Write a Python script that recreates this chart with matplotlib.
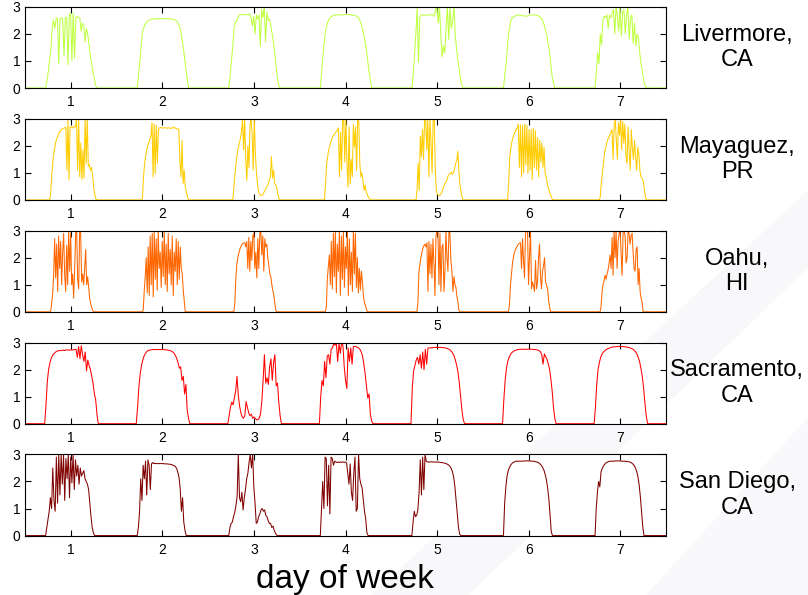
import matplotlib.pyplot as plt
import numpy as np
from matplotlib.patches import Polygon

plt.rcParams['font.family'] = ['Liberation Sans', 'DejaVu Sans']

days = [1, 2, 3, 4, 5, 6, 7]
cities = ['Livermore,\nCA', 'Mayaguez,\nPR', 'Oahu,\nHI', 'Sacramento,\nCA', 'San Diego,\nCA']
colors = ['#bfff40', '#ffcc00', '#ff6600', '#ff0000', '#800000']

# sunrise / sunset as offset from noon (fraction of a day)
sun_rise = [-0.275, -0.23, -0.22, -0.285, -0.275]
sun_set = [0.285, 0.285, 0.25, 0.30, 0.26]

# power samples between sunrise and sunset, one list per day
livermore = [
    [0, 0.25, 0.6, 1.0, 1.4, 2.2, 2.5, 2.2, 2.55, 2.6, 0.9, 2.55, 2.6, 2.55, 1.2, 2.6, 2.6, 0.85, 2.7, 2.75,
     1.0, 2.78, 1.1, 2.6, 2.65, 2.6, 2.6, 2.1, 2.4, 2.3, 1.7, 2.2, 2.0, 1.6, 1.2, 0.9, 0.6, 0.35, 0.1, 0],
    [0, 0.95, 2.05, 2.34, 2.47, 2.52, 2.55, 2.55, 2.56, 2.56, 2.56, 2.56, 2.56, 2.55, 2.54, 2.5, 2.4, 2.1,
     1.5, 0.7, 0],
    [0, 0.4, 1.0, 1.5, 2.2, 2.45, 2.45, 2.6, 2.7, 2.72, 2.72, 2.7, 2.72, 2.7, 2.72, 2.7, 2.75, 2.6, 2.3, 2.65,
     2.0, 2.7, 2.55, 2.7, 1.55, 2.9, 2.6, 3.0, 1.7, 2.8, 2.5, 2.55, 2.3, 2.0, 1.7, 1.3, 0.8, 0.4, 0.1, 0],
    [0, 1.15, 2.1, 2.47, 2.62, 2.68, 2.7, 2.7, 2.7, 2.71, 2.72, 2.72, 2.7, 2.68, 2.66, 2.6, 2.35, 1.95,
     1.4, 0.6, 0],
    [0, 0.5, 1.2, 2.0, 2.96, 0.95, 2.6, 2.7, 2.7, 2.68, 2.7, 2.7, 2.68, 2.7, 2.72, 2.7, 2.7, 2.65, 2.9, 3.0,
     2.4, 3.0, 2.0, 1.15, 1.55, 1.3, 2.2, 3.0, 1.8, 2.96, 2.2, 2.5, 3.0, 1.9, 1.45, 1.0, 0.7, 0.35, 0.1, 0],
    [0, 0.9, 2.0, 2.55, 2.63, 2.68, 2.7, 2.68, 2.66, 2.65, 2.68, 2.7, 2.71, 2.68, 2.65, 2.55, 2.3, 1.9,
     1.3, 0.4, 0],
    [0, 0.6, 1.3, 0.9, 2.0, 1.6, 2.5, 2.65, 2.6, 2.7, 2.2, 2.7, 2.6, 2.75, 2.9, 2.0, 3.0, 2.6, 2.1, 3.0,
     1.9, 2.8, 2.9, 2.0, 2.7, 3.0, 1.8, 2.6, 2.7, 1.65, 2.4, 1.55, 2.0, 1.85, 1.3, 0.9, 0.6, 0.3, 0.1, 0],
]

mayaguez = [
    [0, 0.3, 1.0, 1.45, 1.75, 2.0, 2.2, 2.3, 2.4, 2.5, 2.55, 2.6, 2.62, 2.65, 2.66, 2.68, 1.1, 2.95, 0.75,
     2.7, 2.68, 2.7, 2.65, 2.72, 2.7, 3.0, 1.1, 3.0, 0.85, 2.1, 0.75, 1.85, 0.8, 3.0, 1.35, 3.0, 1.25, 1.3,
     1.1, 1.2, 0.9, 0.45, 0.2, 0.05, 0],
    [0, 0.05, 0.8, 1.3, 1.6, 1.85, 2.0, 2.1, 2.25, 2.35, 2.85, 0.85, 2.8, 0.97, 2.75, 1.35, 2.6, 2.66, 2.68,
     2.66, 2.65, 2.66, 2.67, 2.66, 2.65, 2.66, 2.66, 2.65, 2.64, 2.66, 2.7, 2.66, 2.65, 2.64, 2.62, 2.6,
     1.5, 0.85, 2.2, 0.6, 1.1, 0.5, 0.3, 0.15, 0],
    [0, 0.5, 0.97, 1.35, 1.7, 1.9, 2.1, 2.25, 2.5, 2.97, 1.85, 3.0, 1.5, 0.72, 2.0, 1.2, 2.8, 3.0, 2.4, 1.1,
     3.0, 1.7, 1.0, 0.6, 0.3, 0.2, 0.17, 0.16, 0.2, 0.28, 0.35, 0.45, 0.5, 0.6, 0.75, 0.85, 1.6, 0.8, 1.1,
     0.6, 0.55, 0.45, 0.2, 0.05, 0],
    [0, 0.6, 1.3, 1.6, 1.85, 2.0, 2.15, 2.25, 2.35, 2.42, 2.47, 2.52, 2.58, 2.66, 0.85, 2.5, 1.1, 2.97, 3.0,
     1.4, 3.0, 1.4, 0.47, 2.7, 0.6, 1.5, 0.85, 2.8, 1.95, 2.7, 1.1, 3.0, 2.9, 1.35, 0.85, 1.0, 0.7, 0.35,
     0.55, 0.3, 0.2, 0.1, 0.05, 0, 0],
    [0, 0.4, 1.35, 0.35, 2.35, 1.6, 2.6, 1.5, 3.0, 2.97, 1.85, 3.0, 0.85, 3.0, 2.1, 1.0, 3.0, 3.0, 1.1,
     0.35, 0.2, 0.18, 0.16, 0.2, 0.28, 0.4, 0.5, 0.6, 0.66, 0.75, 0.9, 0.95, 0.97, 1.02, 0.95, 1.0, 1.15,
     1.35, 1.45, 1.8, 1.1, 0.55, 0.3, 0.1, 0],
    [0, 0.6, 1.6, 1.9, 2.15, 2.3, 2.42, 2.5, 2.6, 2.65, 2.8, 1.2, 2.78, 0.85, 2.75, 1.0, 2.8, 1.3, 2.75,
     0.97, 2.6, 1.1, 2.6, 0.75, 2.65, 1.2, 2.55, 1.1, 2.3, 0.85, 2.2, 1.4, 2.1, 1.2, 1.95, 1.0, 0.85, 0.6,
     0.45, 0.3, 0.2, 0.08, 0.02, 0, 0],
    [0, 0.1, 0.6, 1.0, 1.35, 1.7, 1.9, 2.1, 2.22, 2.3, 2.4, 2.5, 2.6, 1.5, 2.75, 3.0, 2.2, 1.5, 2.85, 2.4,
     3.0, 1.85, 2.9, 2.1, 2.8, 1.6, 1.35, 2.7, 1.8, 1.1, 2.6, 1.9, 1.5, 2.2, 1.6, 1.1, 1.95, 1.7, 1.1,
     0.85, 0.8, 0.72, 0.45, 0.15, 0],
]

oahu = [
    [0, 0.3, 0.65, 1.35, 2.7, 1.25, 2.5, 0.75, 2.8, 1.6, 2.6, 1.0, 2.2, 2.9, 1.4, 0.75, 2.45, 1.0, 3.0,
     1.5, 2.9, 1.0, 1.4, 0.5, 1.6, 2.9, 3.0, 1.2, 0.85, 3.0, 2.9, 1.1, 1.4, 1.0, 1.6, 2.3, 1.0, 1.3, 0.9,
     0.5, 0.3, 0.15, 0.05, 0],
    [0, 0.05, 0.75, 1.3, 2.0, 0.7, 2.4, 0.6, 2.8, 1.0, 2.9, 0.55, 3.0, 1.2, 2.7, 0.8, 3.0, 1.6, 2.2, 0.9,
     2.6, 1.3, 3.0, 1.0, 2.5, 0.75, 2.9, 1.4, 2.3, 1.0, 2.8, 0.6, 2.2, 1.5, 2.7, 1.0, 2.6, 1.2, 2.4, 1.6,
     1.4, 0.8, 0.4, 0],
    [0, 0.3, 1.2, 1.75, 2.0, 2.15, 2.3, 2.4, 2.48, 2.52, 2.55, 2.55, 2.4, 2.6, 1.6, 2.75, 1.5, 2.6, 1.9,
     2.8, 2.9, 1.6, 2.2, 1.25, 2.7, 1.6, 2.9, 3.0, 2.1, 2.8, 1.5, 2.7, 2.4, 2.5, 2.0, 1.7, 1.4, 1.3, 1.0,
     0.8, 0.6, 0.3, 0.05, 0],
    [0, 0.2, 1.25, 1.7, 2.1, 1.0, 2.6, 0.85, 2.9, 1.3, 3.0, 0.7, 2.5, 1.5, 2.95, 0.6, 2.8, 1.2, 3.0, 0.9,
     2.4, 1.6, 3.0, 0.6, 2.7, 1.0, 2.2, 0.75, 3.0, 1.4, 2.9, 0.9, 2.0, 0.7, 1.6, 0.8, 1.5, 1.1, 0.6, 0.35,
     0.25, 0.1, 0, 0],
    [0, 0.35, 1.5, 1.75, 2.0, 2.2, 2.35, 2.45, 2.5, 2.4, 2.55, 0.75, 2.6, 1.4, 2.5, 1.25, 2.7, 1.8, 0.6,
     2.8, 3.0, 2.95, 1.0, 2.9, 0.75, 2.4, 2.5, 0.75, 1.5, 3.0, 2.0, 1.5, 3.0, 2.9, 1.85, 1.5, 0.75, 1.3,
     1.0, 0.9, 0.55, 0.35, 0.05, 0],
    [0, 0.3, 1.0, 1.4, 1.8, 2.05, 2.2, 2.3, 2.38, 2.45, 2.5, 2.54, 2.55, 1.6, 2.7, 1.9, 1.25, 2.9, 3.0,
     3.0, 1.0, 2.1, 3.0, 0.85, 1.1, 0.95, 0.75, 1.9, 0.85, 1.1, 2.0, 2.5, 1.3, 0.85, 1.5, 1.7, 2.0, 1.1,
     1.0, 0.85, 0.45, 0.2, 0, 0],
    [0, 0.2, 0.75, 1.0, 1.15, 1.35, 1.2, 1.4, 1.55, 1.8, 2.1, 1.6, 2.75, 1.35, 3.0, 2.0, 3.0, 1.6, 2.6,
     2.9, 3.0, 2.2, 1.35, 2.9, 3.0, 2.8, 1.8, 2.0, 3.0, 2.9, 2.5, 2.8, 2.9, 2.2, 1.6, 1.5, 2.3, 2.4, 1.0,
     1.6, 0.75, 0.5, 0.35, 0],
]

sacramento = [
    [0, 0.7, 1.55, 2.0, 2.25, 2.42, 2.52, 2.58, 2.63, 2.67, 2.69, 2.7, 2.7, 2.71, 2.72, 2.7, 2.72, 2.73,
     2.72, 2.72, 2.73, 2.72, 2.73, 2.74, 2.75, 2.45, 2.85, 2.4, 2.88, 2.55, 2.3, 2.65, 1.95, 2.35, 2.15,
     2.0, 1.75, 1.5, 1.1, 0.9, 0.35, 0],
    [0, 0.6, 1.35, 1.85, 2.15, 2.35, 2.5, 2.6, 2.66, 2.7, 2.72, 2.73, 2.73, 2.74, 2.74, 2.74, 2.74, 2.74,
     2.74, 2.74, 2.74, 2.74, 2.73, 2.73, 2.72, 2.71, 2.7, 2.68, 2.65, 2.6, 2.52, 2.4, 2.25, 2.05, 2.1,
     1.6, 1.75, 1.1, 1.45, 0.5, 0.2, 0],
    [0, 0.3, 0.6, 0.8, 0.7, 0.95, 1.2, 1.75, 1.05, 0.65, 0.4, 0.25, 0.2, 0.3, 0.82, 0.6, 0.4, 0.3, 0.35,
     0.2, 0.25, 0.2, 0.14, 0.15, 0.2, 0.35, 0.8, 1.6, 2.55, 1.5, 1.7, 1.45, 2.1, 2.4, 1.6, 2.25, 2.55,
     1.4, 1.5, 0.8, 0.3, 0],
    [0, 1.0, 1.6, 1.4, 2.3, 1.7, 2.5, 2.55, 2.2, 2.75, 2.8, 2.95, 2.9, 2.95, 2.3, 2.96, 2.6, 3.0, 2.9,
     2.1, 1.6, 1.3, 2.8, 2.3, 2.8, 2.2, 2.85, 2.85, 2.85, 2.82, 2.8, 2.75, 2.65, 2.5, 2.2, 1.85, 1.4,
     0.95, 1.1, 0.35, 0.1, 0],
    [0, 1.3, 1.95, 2.15, 2.35, 2.45, 2.2, 2.55, 2.05, 2.65, 2.0, 2.75, 2.2, 2.8, 2.8, 2.8, 2.81, 2.81,
     2.82, 2.82, 2.82, 2.82, 2.82, 2.82, 2.81, 2.81, 2.8, 2.79, 2.77, 2.75, 2.72, 2.67, 2.6, 2.5, 2.35,
     2.15, 1.9, 1.5, 1.0, 0.5, 0.15, 0],
    [0, 0.9, 1.6, 2.05, 2.3, 2.45, 2.55, 2.62, 2.66, 2.69, 2.71, 2.73, 2.74, 2.75, 2.75, 2.75, 2.75, 2.75,
     2.75, 2.75, 2.76, 2.75, 2.75, 2.75, 2.74, 2.74, 2.73, 2.72, 2.7, 2.66, 2.55, 2.2, 2.58, 2.48, 2.38,
     2.22, 2.0, 1.65, 1.2, 0.6, 0.2, 0],
    [0, 0.6, 1.45, 2.0, 2.25, 2.45, 2.57, 2.64, 2.69, 2.73, 2.76, 2.78, 2.8, 2.82, 2.83, 2.84, 2.84, 2.85,
     2.85, 2.85, 2.85, 2.85, 2.85, 2.84, 2.84, 2.83, 2.82, 2.81, 2.79, 2.77, 2.74, 2.7, 2.64, 2.55, 2.42,
     2.25, 2.0, 1.7, 1.25, 0.7, 0.25, 0],
]

san_diego = [
    [0, 0.3, 0.6, 0.9, 1.4, 1.0, 2.5, 1.3, 0.9, 2.9, 1.2, 3.0, 1.5, 3.0, 1.9, 3.0, 1.3, 2.85, 2.1, 3.0,
     1.4, 2.9, 1.95, 3.0, 1.7, 2.8, 2.2, 2.6, 1.9, 2.5, 2.2, 2.3, 2.4, 2.1, 2.0, 1.9, 1.7, 1.2, 0.7, 0.3,
     0.1, 0],
    [0, 0.3, 0.9, 2.1, 1.3, 2.6, 2.1, 2.75, 1.5, 2.8, 2.6, 1.7, 2.65, 2.7, 2.66, 2.67, 2.66, 2.66, 2.66,
     2.66, 2.66, 2.66, 2.66, 2.65, 2.65, 2.65, 2.64, 2.64, 2.63, 2.62, 2.6, 2.58, 2.55, 2.48, 2.35, 2.15,
     1.75, 0.9, 1.4, 0.5, 0.2, 0],
    [0, 0.3, 0.45, 0.5, 0.7, 0.85, 1.1, 1.45, 3.0, 1.4, 1.25, 1.6, 0.95, 1.4, 1.7, 2.1, 2.3, 2.7, 3.0,
     2.5, 3.0, 1.8, 1.2, 0.45, 0.5, 0.7, 0.8, 0.95, 1.0, 0.9, 0.95, 0.75, 0.7, 0.55, 0.45, 0.45, 0.3,
     0.35, 0.2, 0.1, 0.02, 0],
    [0, 1.0, 2.0, 1.0, 2.9, 2.85, 1.1, 2.6, 0.8, 2.9, 2.85, 2.6, 2.75, 2.72, 2.7, 2.72, 2.7, 2.72, 2.71,
     2.72, 2.7, 2.72, 2.68, 2.3, 1.9, 2.65, 1.6, 1.3, 2.3, 2.9, 0.9, 1.0, 3.0, 2.1, 1.9, 1.75, 1.3, 0.9,
     0.6, 0.1, 0, 0],
    [0, 0.5, 0.9, 0.7, 0.75, 0.95, 1.6, 2.8, 1.5, 2.9, 1.7, 3.0, 2.75, 2.72, 2.72, 2.72, 2.73, 2.72, 2.72,
     2.72, 2.72, 2.71, 2.72, 2.71, 2.7, 2.7, 2.69, 2.68, 2.67, 2.65, 2.63, 2.6, 2.55, 2.47, 2.35, 2.15,
     1.8, 1.3, 0.8, 0.3, 0.05, 0],
    [0, 1.2, 1.8, 2.2, 2.4, 2.52, 2.6, 2.66, 2.7, 2.72, 2.74, 2.75, 2.75, 2.75, 2.75, 2.75, 2.75, 2.76,
     2.76, 2.76, 2.76, 2.76, 2.76, 2.75, 2.75, 2.75, 2.74, 2.73, 2.72, 2.7, 2.67, 2.63, 2.58, 2.5, 2.4,
     2.25, 2.05, 1.75, 1.35, 0.75, 0.15, 0],
    [0, 1.0, 1.6, 2.0, 1.8, 2.35, 2.48, 2.57, 2.63, 2.68, 2.71, 2.73, 2.74, 2.75, 2.75, 2.75, 2.75, 2.76,
     2.76, 2.76, 2.76, 2.76, 2.75, 2.75, 2.75, 2.75, 2.74, 2.74, 2.73, 2.72, 2.7, 2.67, 2.63, 2.57, 2.48,
     2.35, 2.15, 1.85, 1.4, 0.85, 0.3, 0],
]

series = [livermore, mayaguez, oahu, sacramento, san_diego]

fig = plt.figure(figsize=(8.08, 5.95), dpi=100)

# faint watermark swooshes behind the panels
fig.patches.append(Polygon([[0.46, 0], [0.58, 0], [1, 0.55], [1, 0.68]], closed=True,
                           transform=fig.transFigure, facecolor='#f8f8fa', edgecolor='none',
                           zorder=-1))
fig.patches.append(Polygon([[0.80, 0], [1, 0], [1, 0.3]], closed=True,
                           transform=fig.transFigure, facecolor='#f9f9fb', edgecolor='none',
                           zorder=-1))

for i in range(len(cities)):
    top = 6.8 + 111.9 * i
    ax = fig.add_axes([25 / 808, 1 - (top + 81.2) / 595, 641 / 808, 81.2 / 595])

    t = [0.5]
    p = [0]
    for d, vals in zip(days, series[i]):
        tt = d + np.linspace(sun_rise[i], sun_set[i], len(vals))
        t.extend(tt)
        p.extend(vals)
    t.append(7.5)
    p.append(0)
    ax.plot(t, p, color=colors[i], lw=0.75)

    ax.set_xlim(0.5, 7.5)
    ax.set_ylim(0, 3)
    ax.set_xticks(days)
    ax.set_yticks([0, 1, 2, 3])
    ax.tick_params(direction='in', top=True, right=True, length=4, width=0.8,
                   labelsize=10)
    ax.tick_params(axis='x', pad=5)
    for s in ax.spines.values():
        s.set_linewidth(0.8)
    ax.text(1.111, 0.5, cities[i], transform=ax.transAxes, ha='center', va='center',
            multialignment='center', fontsize=17)

fig.text(345 / 808, 0.012, 'day of week', ha='center', va='baseline', fontsize=24)

plt.savefig('out.png', dpi=100)
